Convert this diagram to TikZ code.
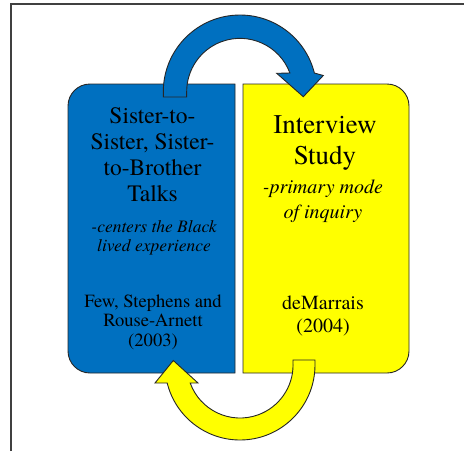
\documentclass[tikz,border=0pt]{standalone}
\usepackage{fontspec}
\setmainfont{TeX Gyre Termes}
\definecolor{talkblue}{HTML}{0070C0}
\definecolor{studyyellow}{HTML}{FFFF00}
\definecolor{edge}{HTML}{262626}
\tikzset{
  panel/.style={draw=edge, line width=0.9pt},
  cyclearrow/.style={draw=edge, line width=0.9pt, line join=miter},
  frameline/.style={draw=black!75, line width=1.4pt},
  txt/.style={inner sep=0pt, align=center, text=black},
}
\begin{document}
\begin{tikzpicture}[x=1pt, y=-1pt]
  \useasboundingbox (0,0) rectangle (464,451);
  % page frame
  \draw[frameline] (11,451) -- (11,4) -- (464,4);

  % left panel: rounded on the left side only
  \path[panel, fill=talkblue] (235,84) -- (90,84)
    arc[start angle=270, end angle=180, radius=22] -- (68,351)
    arc[start angle=180, end angle=90, radius=22] -- (235,373) -- cycle;
  % right panel: rounded on the right side only
  \path[panel, fill=studyyellow] (243,84) -- (387,84)
    arc[start angle=270, end angle=360, radius=22] -- (409,351)
    arc[start angle=0, end angle=90, radius=22] -- (243,373) -- cycle;

  % upper curved arrow, left panel -> right panel
  \path[cyclearrow, fill=talkblue] (163.3,97) -- (163.3,91.7)
    arc[start angle=180, end angle=345.9, radius=76.7]
    -- (323.3,75.5) -- (303.3,96.7) -- (276.7,73.3) -- (289.9,73)
    arc[start angle=339.5, end angle=180, radius=53.3]
    -- (186.7,97) -- cycle;

  % lower curved arrow, right panel -> left panel
  \path[cyclearrow, fill=studyyellow] (315,360) -- (315,365)
    arc[start angle=0, end angle=166.1, radius=75]
    -- (155,383) -- (173.3,360.5) -- (198,383) -- (190.2,383)
    arc[start angle=160.15, end angle=0, radius=53]
    -- (293,360) -- cycle;

  % texts of the left panel
  \node[txt, font=\fontsize{23.5}{26}\selectfont] (talktitle) at (152.5,155)
    {Sister-to-\\Sister, Sister-\\to-Brother\\Talks};
  \node[txt, font=\fontsize{17.5}{19.5}\selectfont\itshape] (talknote) at (154,238)
    {-centers the Black\\lived experience};
  \node[txt, font=\fontsize{18.6}{19.6}\selectfont] (talkref) at (153,322)
    {Few, Stephens and\\Rouse-Arnett\\(2003)};

  % texts of the right panel
  \node[txt, font=\fontsize{27}{31.7}\selectfont] (studytitle) at (325,143)
    {Interview\\Study};
  \node[txt, font=\fontsize{20}{24.5}\selectfont\itshape] (studynote) at (323,201)
    {-primary mode\\of inquiry};
  \node[txt, font=\fontsize{20}{22.7}\selectfont] (studyref) at (323,316)
    {deMarrais\\(2004)};
\end{tikzpicture}
\end{document}
